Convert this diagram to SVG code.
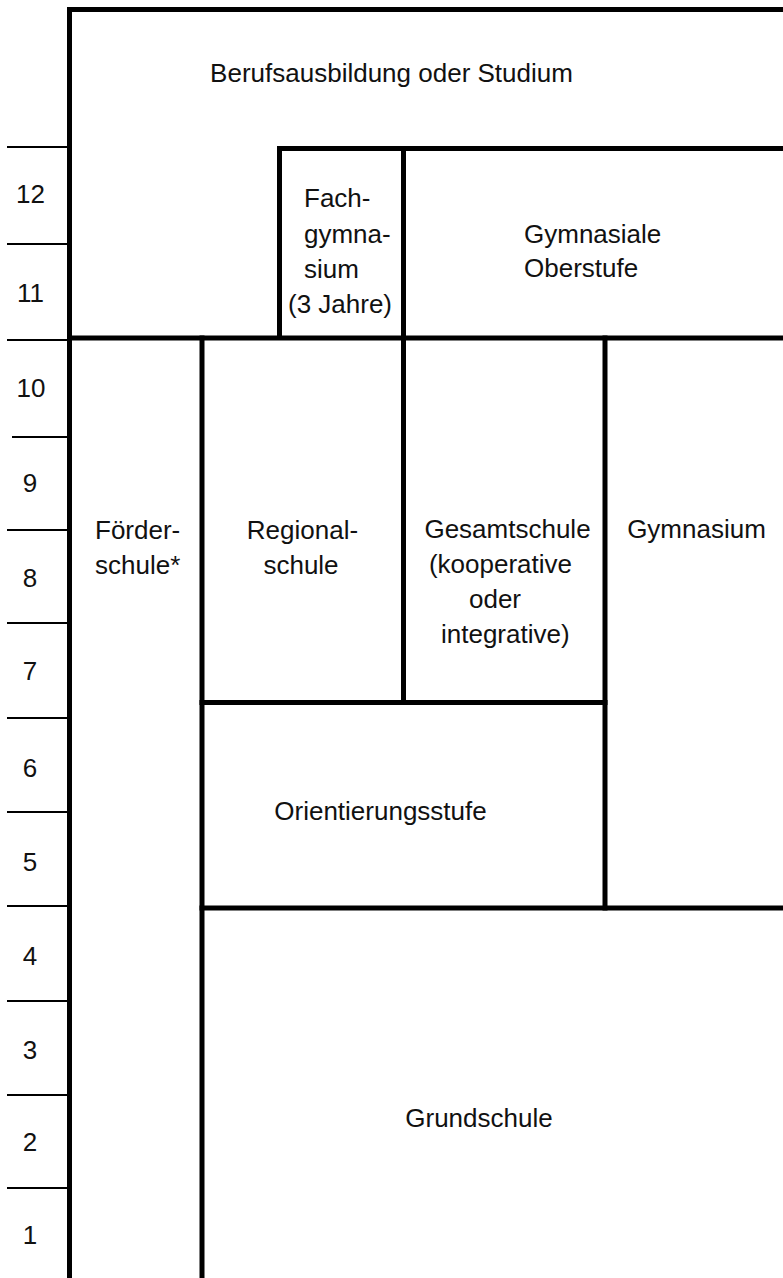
<svg xmlns="http://www.w3.org/2000/svg" width="783" height="1278" viewBox="0 0 783 1278">
<style>
.t{font-family:"Liberation Sans",Arial,sans-serif;font-size:26px;fill:#111}
.m{text-anchor:middle}
.thick{stroke:#000;stroke-width:5;fill:none}
.tick{stroke:#000;stroke-width:2;fill:none}
</style>
<rect width="783" height="1278" fill="#fff"/>
<g id="connectors">
<line class="thick" x1="69.5" y1="7" x2="69.5" y2="1278"/>
<line class="thick" x1="67" y1="9.5" x2="783" y2="9.5"/>
<line class="thick" x1="67" y1="338" x2="783" y2="338"/>
<line class="thick" x1="279.5" y1="146" x2="279.5" y2="338"/>
<line class="thick" x1="277" y1="148.5" x2="783" y2="148.5"/>
<line class="thick" x1="403.5" y1="146" x2="403.5" y2="705"/>
<line class="thick" x1="202" y1="335.5" x2="202" y2="1278"/>
<line class="thick" x1="605" y1="335.5" x2="605" y2="910.5"/>
<line class="thick" x1="199.5" y1="702.5" x2="607.5" y2="702.5"/>
<line class="thick" x1="199.5" y1="908" x2="783" y2="908"/>
</g>
<g id="grades">
<line class="tick" x1="7" y1="147" x2="68" y2="147"/>
<line class="tick" x1="7" y1="244" x2="68" y2="244"/>
<line class="tick" x1="7" y1="340" x2="68" y2="340"/>
<line class="tick" x1="12" y1="437" x2="68" y2="437"/>
<line class="tick" x1="7" y1="530" x2="68" y2="530"/>
<line class="tick" x1="7" y1="623" x2="68" y2="623"/>
<line class="tick" x1="7" y1="718" x2="68" y2="718"/>
<line class="tick" x1="7" y1="812" x2="68" y2="812"/>
<line class="tick" x1="7" y1="906" x2="68" y2="906"/>
<line class="tick" x1="7" y1="1001" x2="68" y2="1001"/>
<line class="tick" x1="7" y1="1095" x2="68" y2="1095"/>
<line class="tick" x1="7" y1="1188" x2="68" y2="1188"/>
<text class="t m" x="30.5" y="203">12</text>
<text class="t m" x="30.5" y="301.5">11</text>
<text class="t m" x="31" y="397">10</text>
<text class="t m" x="30" y="491.5">9</text>
<text class="t m" x="30" y="586.5">8</text>
<text class="t m" x="30" y="680">7</text>
<text class="t m" x="30" y="776.5">6</text>
<text class="t m" x="30" y="870.5">5</text>
<text class="t m" x="30" y="965">4</text>
<text class="t m" x="30" y="1059">3</text>
<text class="t m" x="30" y="1150.5">2</text>
<text class="t m" x="30" y="1244">1</text>
</g>
<g id="berufsausbildung">
<text class="t m" x="391.5" y="81.5">Berufsausbildung oder Studium</text>
</g>
<g id="fachgymnasium">
<text class="t" x="304" y="207.3">Fach-</text>
<text class="t" x="304" y="242.5">gymna-</text>
<text class="t" x="304" y="277.7">sium</text>
<text class="t m" x="340" y="312.9">(3 Jahre)</text>
</g>
<g id="gymnasiale-oberstufe">
<text class="t" x="524" y="242.7">Gymnasiale</text>
<text class="t" x="524" y="276.7">Oberstufe</text>
</g>
<g id="foerderschule">
<text class="t" x="95" y="539.3">Förder-</text>
<text class="t" x="95" y="574">schule*</text>
</g>
<g id="regionalschule">
<text class="t m" x="302.5" y="539.3">Regional-</text>
<text class="t m" x="301" y="574">schule</text>
</g>
<g id="gesamtschule">
<text class="t m" x="507.5" y="538.3">Gesamtschule</text>
<text class="t m" x="500.5" y="573.3">(kooperative</text>
<text class="t m" x="495" y="608.3">oder</text>
<text class="t m" x="505.3" y="643.3">integrative)</text>
</g>
<g id="gymnasium">
<text class="t m" x="696.5" y="538.3">Gymnasium</text>
</g>
<g id="orientierungsstufe">
<text class="t m" x="380.5" y="820">Orientierungsstufe</text>
</g>
<g id="grundschule">
<text class="t m" x="479" y="1127">Grundschule</text>
</g>
</svg>
